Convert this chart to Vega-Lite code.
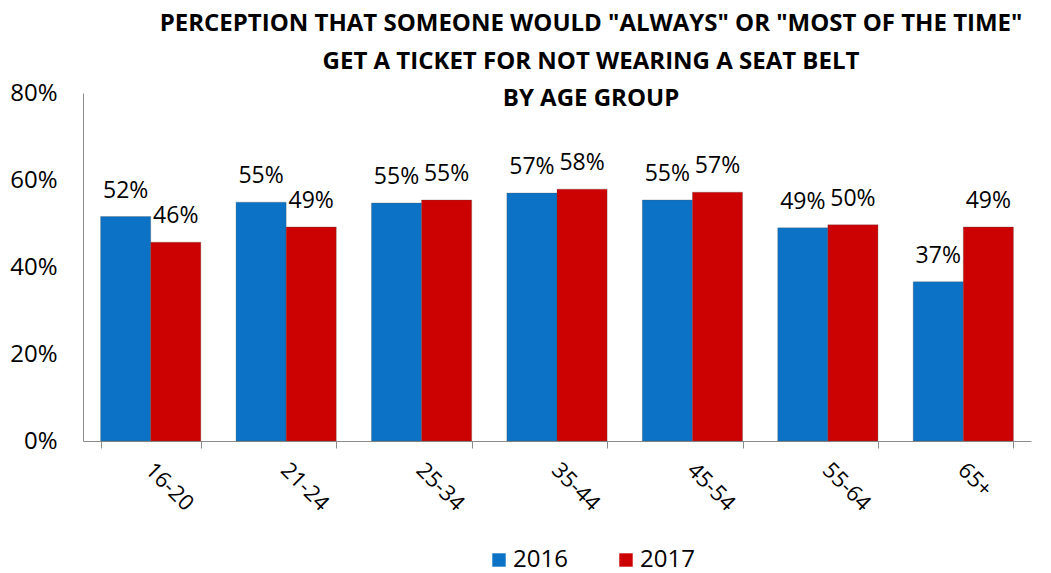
{
  "$schema": "https://vega.github.io/schema/vega-lite/v6.json",
  "width": 948,
  "height": 348,
  "autosize": {"type": "none"},
  "padding": {"left": 83, "top": 93, "right": 20, "bottom": 132},
  "background": "white",
  "title": {
    "text": ["PERCEPTION THAT SOMEONE WOULD \"ALWAYS\" OR  \"MOST OF THE TIME\"", "GET A TICKET FOR NOT WEARING A SEAT BELT", "BY AGE GROUP"],
    "anchor": "middle",
    "dx": 34,
    "offset": -30,
    "font": "Open Sans",
    "fontSize": 24,
    "fontWeight": "bold",
    "lineHeight": 37.5,
    "color": "#000000"
  },
  "data": {
    "values": [
      {"age": "16-20", "year": "2016", "value": 0.516, "label": "52%"},
      {"age": "16-20", "year": "2017", "value": 0.457, "label": "46%"},
      {"age": "21-24", "year": "2016", "value": 0.549, "label": "55%"},
      {"age": "21-24", "year": "2017", "value": 0.492, "label": "49%"},
      {"age": "25-34", "year": "2016", "value": 0.547, "label": "55%"},
      {"age": "25-34", "year": "2017", "value": 0.554, "label": "55%"},
      {"age": "35-44", "year": "2016", "value": 0.570, "label": "57%"},
      {"age": "35-44", "year": "2017", "value": 0.579, "label": "58%"},
      {"age": "45-54", "year": "2016", "value": 0.554, "label": "55%"},
      {"age": "45-54", "year": "2017", "value": 0.572, "label": "57%"},
      {"age": "55-64", "year": "2016", "value": 0.490, "label": "49%"},
      {"age": "55-64", "year": "2017", "value": 0.497, "label": "50%"},
      {"age": "65+", "year": "2016", "value": 0.366, "label": "37%"},
      {"age": "65+", "year": "2017", "value": 0.492, "label": "49%"}
    ]
  },
  "encoding": {
    "x": {
      "field": "age",
      "type": "nominal",
      "sort": null,
      "scale": {"paddingInner": 0.26, "paddingOuter": 0.13},
      "axis": {
        "title": null,
        "labelAngle": 45,
        "labelAlign": "left",
        "labelBaseline": "top",
        "labelFont": "Open Sans",
        "labelFontSize": 22,
        "labelColor": "#000000",
        "labelPadding": 11,
        "labelOffset": 5,
        "domainColor": "#8c8c8c",
        "tickColor": "#8c8c8c",
        "tickBand": "extent",
        "tickSize": 7
      }
    },
    "xOffset": {"field": "year", "type": "nominal", "scale": {"paddingInner": 0}},
    "y": {
      "field": "value",
      "type": "quantitative",
      "scale": {"domain": [0, 0.8]},
      "axis": {
        "title": null,
        "format": ".0%",
        "values": [0, 0.2, 0.4, 0.6, 0.8],
        "grid": false,
        "ticks": false,
        "labelFont": "Open Sans",
        "labelFontSize": 24,
        "labelColor": "#000000",
        "labelPadding": 26,
        "domainColor": "#8c8c8c"
      }
    }
  },
  "layer": [
    {
      "mark": {"type": "bar", "stroke": "#555555", "strokeWidth": 0.6, "strokeOpacity": 0.5},
      "encoding": {
        "color": {
          "field": "year",
          "type": "nominal",
          "scale": {"domain": ["2016", "2017"], "range": ["#0b72c6", "#cc0202"]},
          "legend": {
            "title": null,
            "orient": "none",
            "direction": "horizontal",
            "legendX": 404,
            "legendY": 455,
            "symbolType": "square",
            "symbolSize": 180,
            "symbolStrokeWidth": 0,
            "labelFont": "Open Sans",
            "labelFontSize": 24,
            "labelColor": "#000000",
            "labelOffset": 2,
            "columnPadding": 46,
            "padding": 0
          }
        }
      }
    },
    {
      "mark": {"type": "text", "font": "Open Sans", "fontSize": 23, "color": "#000000", "baseline": "alphabetic", "dy": -19},
      "encoding": {
        "text": {"field": "label"}
      }
    }
  ],
  "config": {"view": {"stroke": null}}
}
